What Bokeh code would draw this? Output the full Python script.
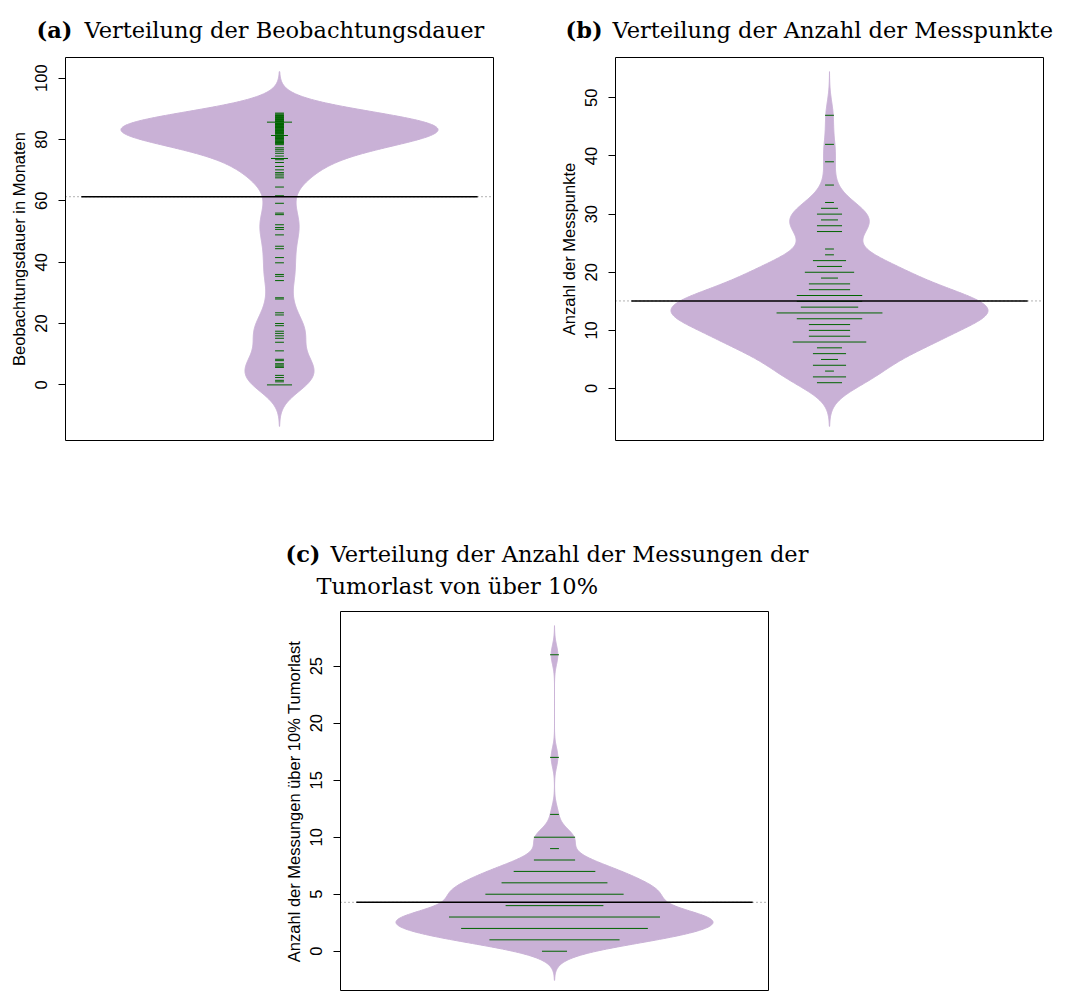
import numpy as np
from bokeh.plotting import figure
from bokeh.models import Range1d, FixedTicker, ColumnDataSource, Span
from bokeh.core.properties import value
from bokeh.layouts import column, row
from bokeh.embed import file_html
from bokeh.resources import INLINE

# ---------------- data ----------------
# (a) Beobachtungsdauer in Monaten, one value per patient
beobachtungsdauer = [
    0, 0, 0, 1.0, 1.5, 2.4, 3.1, 5.7, 6.1, 6.5, 6.9, 7.9, 8.35, 11.1, 13.9,
    15.2, 16.0, 16.8, 17.5, 19.3, 20.0, 22.8, 23.5, 28.0, 28.4, 34.0, 35.4,
    36.0, 39.8, 41.5, 44.4, 45.2, 48.9, 50.7, 51.3, 52.2, 55.5, 56.0, 59.2,
    61.65, 64.5, 67.5, 68.1, 68.7, 69.2, 70.1, 71.2, 72.5, 73.4, 73.8, 73.8,
    74.6, 75.5, 76.2, 76.8, 77.3, 78.3, 78.6, 78.8, 79.0, 79.2, 79.4, 79.6,
    79.9, 80.1, 80.3, 80.5, 80.7, 80.9, 81.1, 81.3, 81.3, 81.5, 81.8, 82.0,
    82.1, 82.3, 82.5, 82.7, 82.8, 82.9, 83.1, 83.3, 83.5, 83.7, 83.9, 84.0,
    84.1, 84.2, 84.4, 84.6, 84.8, 84.9, 85.05, 85.2, 85.4, 85.65, 85.65,
    85.65, 85.8, 85.9, 86.1, 86.3, 86.5, 86.6, 86.9, 87.0, 87.2, 87.4, 87.6,
    87.8, 88.0, 88.3, 88.6,
]
# (b) Anzahl der Messpunkte: value -> number of patients
messpunkte_werte = [47, 42, 39, 35, 32, 31, 30, 29, 28, 27, 24, 23, 22, 21, 20,
                    19, 18, 17, 16, 15, 14, 13, 12, 11, 10, 9, 8, 7, 6, 5, 4, 3, 2, 1]
messpunkte_anzahl = [1, 1, 1, 1, 1, 2, 3, 2, 3, 3, 1, 1, 4, 3, 6,
                     2, 5, 5, 8, 8, 7, 13, 8, 5, 5, 5, 9, 3, 4, 2, 4, 1, 4, 3]
# (c) Anzahl der Messungen ueber 10% Tumorlast: value -> number of patients
tumorlast_werte = [26, 17, 12, 10, 9, 8, 7, 6, 5, 4, 3, 2, 1, 0]
tumorlast_anzahl = [1, 1, 1, 5, 1, 5, 10, 13, 17, 12, 26, 23, 16, 3]

ticks_a = [0, 20, 40, 60, 80, 100]
ticks_b = [0, 10, 20, 30, 40, 50]
ticks_c = [0, 5, 10, 15, 20, 25]

bw_a, bw_b, bw_c = 4.5, 2.5, 0.85   # kernel bandwidths

labels = ["Beobachtungsdauer in Monaten",
          "Anzahl der Messpunkte",
          "Anzahl der Messungen über 10% Tumorlast"]
titles_bold = ["(a)", "(b)", "(c)"]
titles_text = ["Verteilung der Beobachtungsdauer",
               "Verteilung der Anzahl der Messpunkte",
               "Verteilung der Anzahl der Messungen der",
               "Tumorlast von über 10%"]

# ---------------- styling ----------------
AX_FONT = "Liberation Sans"
AX_FS = "16.5px"
TITLE_FONT = "DejaVu Serif"
TITLE_FS = "22.5px"
BEAN = "#C9B1D6"
BEANLINE = "#006400"
LL = 0.0204          # beanline length per observation (x units)
FRAME_W, FRAME_H = 428, 383
W = 1068


def kde(v, bw, n=512):
    lo, hi = v.min() - 3 * bw, v.max() + 3 * bw
    g = np.linspace(lo, hi, n)
    d = np.exp(-0.5 * ((g[:, None] - v[None, :]) / bw) ** 2).sum(axis=1)
    return g, d / d.max()


def bean_panel(vals, bw, ticks, ylabel, bl, br, bt, bb, fh):
    v = np.asarray(vals, dtype=float)
    g, d = kde(v, bw)
    ext = 0.04 * (g[-1] - g[0])
    y0, y1 = g[0] - ext, g[-1] + ext
    y0 = y1 - (y1 - y0) * fh / FRAME_H
    p = figure(frame_width=FRAME_W, frame_height=fh,
               x_range=Range1d(0.46, 1.54), y_range=Range1d(y0, y1),
               x_axis_location=None, toolbar_location=None,
               output_backend="svg",
               min_border_left=bl, min_border_right=br,
               min_border_top=bt, min_border_bottom=bb)
    p.grid.visible = False
    p.outline_line_color = "black"
    p.outline_line_alpha = 1.0
    p.outline_line_width = 1
    p.background_fill_color = "white"
    p.border_fill_color = "white"

    hw = 0.4 * d
    p.patch(np.concatenate([1 - hw, (1 + hw)[::-1]]),
            np.concatenate([g, g[::-1]]),
            fill_color=BEAN, line_color=BEAN, line_width=1)

    m = v.mean()
    p.add_layout(Span(location=m, dimension="width", line_color="#666666",
                      line_dash="1 3", line_width=1, level="underlay"))

    u, c = np.unique(v, return_counts=True)
    src = ColumnDataSource(dict(x0=1 - c * LL / 2, x1=1 + c * LL / 2, y=u))
    p.segment(x0="x0", x1="x1", y0="y", y1="y", source=src,
              line_color=BEANLINE, line_width=1, line_cap="round")
    p.segment(x0=[0.5], x1=[1.5], y0=[m], y1=[m],
              line_color="black", line_width=1.6)

    ax = p.yaxis[0]
    ax.ticker = FixedTicker(ticks=ticks)
    ax.bounds = (ticks[0], ticks[-1])
    ax.major_label_orientation = "vertical"
    ax.major_label_text_font = AX_FONT
    ax.major_label_text_font_size = AX_FS
    ax.major_label_text_color = "black"
    ax.major_label_standoff = 11
    ax.major_tick_out = 7
    ax.major_tick_in = 0
    ax.minor_tick_line_color = None
    ax.axis_line_color = "black"
    ax.major_tick_line_color = "black"
    ax.axis_label = ylabel
    ax.axis_label_text_font = AX_FONT
    ax.axis_label_text_font_size = AX_FS
    ax.axis_label_text_font_style = "normal"
    ax.axis_label_text_color = "black"
    ax.axis_label_standoff = 5
    return p


def title_strip(h, items):
    """items: (x_left, baseline_from_top, text, bold)"""
    s = figure(frame_width=W, frame_height=h,
               x_range=Range1d(0, W), y_range=Range1d(h, 0),
               x_axis_location=None, y_axis_location=None,
               toolbar_location=None, output_backend="svg",
               min_border=0)
    s.grid.visible = False
    s.outline_line_color = None
    s.background_fill_color = "white"
    s.border_fill_color = "white"
    for x, y, t, bold in items:
        s.text(x=[x], y=[y], text=[t], text_font=value(TITLE_FONT),
               text_font_size=value(TITLE_FS),
               text_font_style="bold" if bold else "normal",
               text_baseline="alphabetic", text_align="left",
               text_color="black")
    return s


vals_b = np.repeat(messpunkte_werte, messpunkte_anzahl)
vals_c = np.repeat(tumorlast_werte, tumorlast_anzahl)

pa = bean_panel(beobachtungsdauer, bw_a, ticks_a, labels[0],
                bl=65, br=41, bt=1, bb=10, fh=FRAME_H)
pb = bean_panel(vals_b, bw_b, ticks_b, labels[1],
                bl=81, br=25, bt=1, bb=10, fh=FRAME_H)
pc = bean_panel(vals_c, bw_c, ticks_c, labels[2],
                bl=340, br=300, bt=1, bb=0, fh=380)

strip1 = title_strip(56, [(36, 29, titles_bold[0], True),
                          (84, 29, titles_text[0], False),
                          (565, 29, titles_bold[1], True),
                          (612, 29, titles_text[1], False)])
strip2 = title_strip(160, [(285, 103, titles_bold[2], True),
                           (330, 103, titles_text[2], False),
                           (316, 135, titles_text[3], False)])

layout = column(strip1, row(pa, pb), strip2, row(pc))
open("out.html", "w").write(file_html(layout, INLINE))
